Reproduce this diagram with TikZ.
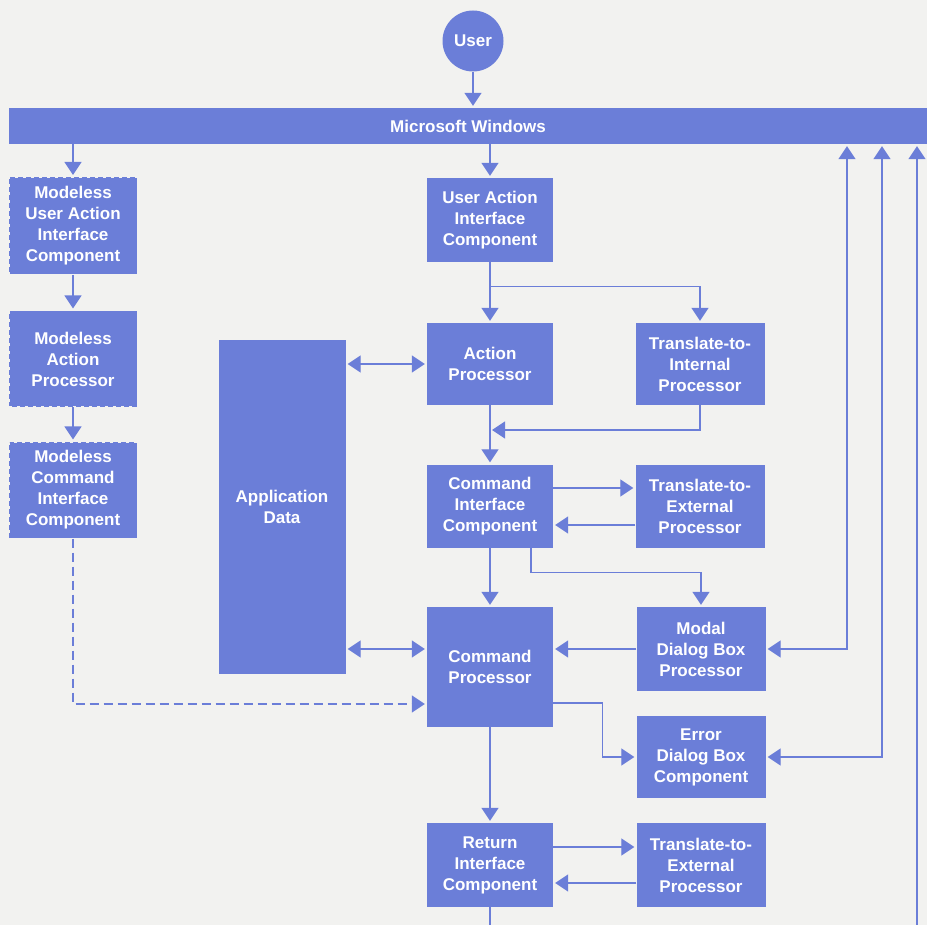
\documentclass[tikz,border=0pt]{standalone}
\usepackage{fontspec}
\setmainfont{Liberation Sans}
\usepackage{xcolor}
\usetikzlibrary{arrows.meta,positioning}
\definecolor{boxblue}{HTML}{6B7ED8}
\definecolor{paper}{HTML}{F2F2F0}

\begin{document}
\begin{tikzpicture}[
  x=1pt,y=-1pt,
  >={Triangle[length=13pt,width=17pt]},
  every node/.style={font=\fontsize{17}{21}\selectfont\bfseries,text=white},
  block/.style={fill=boxblue,align=center,inner sep=2pt,minimum width=126pt,minimum height=84pt},
  sidebox/.style={block,minimum width=129pt},
  modeless/.style={block,minimum width=128pt,minimum height=97pt,draw=paper,dash pattern=on 3pt off 5pt,line width=1pt},
  link/.style={draw=boxblue,line width=1.3pt,->,shorten >=2pt},
  twoway/.style={link,<->,shorten <=2pt}
]
  \fill[paper] (0,0) rectangle (927,925);
  \useasboundingbox (0,0) rectangle (927,925);

  \node[circle,fill=boxblue,minimum size=61pt,inner sep=0pt] (user) at (473,41) {User};
  \node[fill=boxblue,minimum width=918pt,minimum height=36pt,inner sep=0pt] (win) at (468,126) {Microsoft Windows};

  \node[modeless] (muaic) at (73,226) {Modeless\\User Action\\Interface\\Component};
  \node[modeless,minimum height=96pt] (map) at (73,359) {Modeless\\Action\\Processor};
  \node[modeless,minimum height=96pt] (mcic) at (73,490) {Modeless\\Command\\Interface\\Component};

  \node[block,minimum width=127pt,minimum height=333pt] (appdata) at (282,507) {Application\\Data};

  \node[block] (uaic) at (490,220) {User Action\\Interface\\Component};
  \node[block,minimum height=82pt] (ap) at (490,364) {Action\\Processor};
  \node[sidebox,minimum height=82pt] (ttip) at (700,364) {Translate-to-\\Internal\\Processor};
  \node[block,minimum height=83pt] (cic) at (490,506) {Command\\Interface\\Component};
  \node[sidebox,minimum height=83pt] (ttep) at (700,506) {Translate-to-\\External\\Processor};
  \node[block,minimum height=120pt] (cp) at (490,667) {Command\\Processor};
  \node[sidebox] (mdbp) at (701,649) {Modal\\Dialog Box\\Processor};
  \node[sidebox,minimum height=82pt] (edbc) at (701,757) {Error\\Dialog Box\\Component};
  \node[block] (ric) at (490,865) {Return\\Interface\\Component};
  \node[sidebox] (ttepb) at (701,865) {Translate-to-\\External\\Processor};

  \coordinate (rail1) at (847,925);
  \coordinate (rail2) at (882,925);
  \coordinate (rail3) at (917,925);
  \coordinate (apjoin) at (490,430);

  \draw[link] (user) -- (user |- win.north);
  \draw[link] (win.south -| muaic) -- (muaic);
  \draw[link] (win.south -| uaic) -- (uaic);
  \draw[link] (muaic) -- (map);
  \draw[link] (map) -- (mcic);
  \draw[link,dash pattern=on 9pt off 5pt] (mcic.south) |- ([yshift=-37pt]cp.west);

  \draw[link] (uaic) -- (ap);
  \draw[link] (uaic.south) -- ++(0,24) -| (ttip.north);
  \draw[twoway] (appdata.east |- ap) -- (ap.west);
  \draw[link] (ttip.south) |- (apjoin);
  \draw[link] (ap) -- (cic);
  \draw[link] ([yshift=18pt]cic.east) -- ([yshift=18pt]ttep.west);
  \draw[link] ([yshift=-19pt]ttep.west) -- ([yshift=-19pt]cic.east);
  \draw[link] (cic) -- (cp);
  \draw[link] ([xshift=41pt]cic.south) -- ++(0,25) -| (mdbp.north);

  \draw[twoway] (appdata.east |- mdbp) -- (cp.west |- mdbp);
  \draw[link] (mdbp.west) -- (cp.east |- mdbp);
  \draw[link] ([yshift=-36pt]cp.east) -- ++(49,0) |- (edbc.west);
  \draw[link] (cp) -- (ric);
  \draw[link] ([yshift=18pt]ric.east) -- ([yshift=18pt]ttepb.west);
  \draw[link] ([yshift=-18pt]ttepb.west) -- ([yshift=-18pt]ric.east);
  \draw[draw=boxblue,line width=1.3pt] (ric.south) -- (ric.south |- rail3);

  \draw[twoway] (win.south -| rail1) |- (mdbp.east);
  \draw[twoway] (win.south -| rail2) |- (edbc.east);
  \draw[link] (rail3) -- (win.south -| rail3);
\end{tikzpicture}
\end{document}
